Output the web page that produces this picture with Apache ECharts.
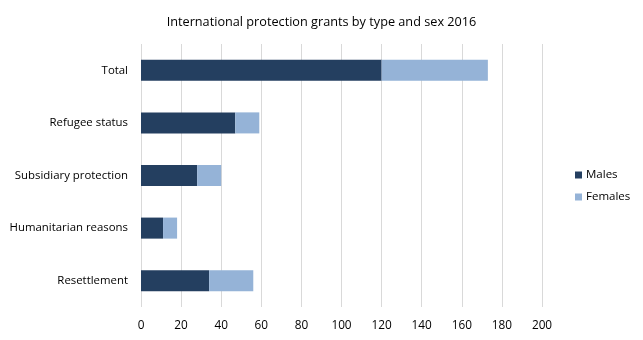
<!DOCTYPE html>
<html>
<head>
<meta charset="utf-8">
<script src="https://cdn.jsdelivr.net/npm/echarts@6/dist/echarts.min.js"></script>
<style>
  html, body { margin: 0; padding: 0; background: #fff; }
  #chart { width: 643px; height: 340px; }
</style>
</head>
<body>
<div id="chart"></div>
<script>
// Grant types, listed top to bottom
const categories = ['Total', 'Refugee status', 'Subsidiary protection', 'Humanitarian reasons', 'Resettlement'];
// Grants by sex (thousands)
const males = [120, 47, 28, 11, 34];
const females = [53, 12, 12, 7, 22];
const xTicks = [0, 20, 40, 60, 80, 100, 120, 140, 160, 180, 200];

const FONT = '"Open Sans", "Noto Sans", sans-serif';
const chart = echarts.init(document.getElementById('chart'), null, { renderer: 'canvas' });

chart.setOption({
  animation: false,
  backgroundColor: '#ffffff',
  title: {
    text: 'International protection grants by type and sex 2016',
    left: 'center',
    top: 11,
    textStyle: { fontFamily: FONT, fontSize: 12.7, fontWeight: 'normal', color: '#000000' }
  },
  legend: {
    orient: 'vertical',
    left: 570,
    top: 164,
    itemWidth: 7,
    itemHeight: 7,
    itemGap: 10,
    icon: 'rect',
    textStyle: { fontFamily: FONT, fontSize: 11.5, color: '#000000', padding: [0, 0, 0, -1] },
    data: ['Males', 'Females']
  },
  grid: { left: 141, right: 101, top: 44, bottom: 33, containLabel: false },
  xAxis: {
    type: 'value',
    min: xTicks[0],
    max: xTicks[xTicks.length - 1],
    interval: xTicks[1] - xTicks[0],
    axisLine: { show: false },
    axisTick: { show: false },
    axisLabel: { fontFamily: FONT, fontSize: 11.8, color: '#000000', margin: 13 },
    splitLine: { show: true, lineStyle: { color: '#d9d9d9', width: 1 } }
  },
  yAxis: {
    type: 'category',
    inverse: true,
    data: categories,
    axisLine: { show: false },
    axisTick: { show: false },
    axisLabel: { fontFamily: FONT, fontSize: 11.4, color: '#000000', margin: 13 }
  },
  series: [
    {
      name: 'Males',
      type: 'bar',
      stack: 'grants',
      data: males,
      barCategoryGap: '60%',
      itemStyle: { color: '#243f60' }
    },
    {
      name: 'Females',
      type: 'bar',
      stack: 'grants',
      data: females,
      barCategoryGap: '60%',
      itemStyle: { color: '#95b3d7' }
    }
  ]
});
</script>
</body>
</html>
